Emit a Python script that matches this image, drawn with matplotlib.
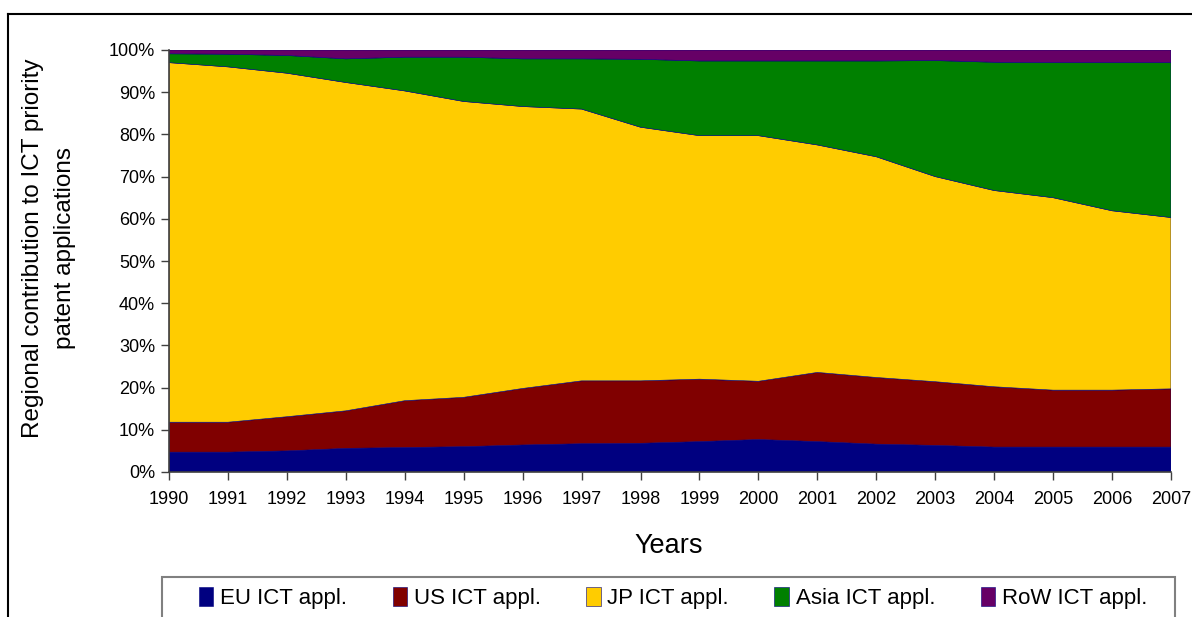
import matplotlib
matplotlib.use("Agg")
import matplotlib.pyplot as plt
from matplotlib.lines import Line2D
from matplotlib.patches import Rectangle
from matplotlib.ticker import FuncFormatter
import numpy as np

plt.rcParams["font.family"] = ["Liberation Sans", "DejaVu Sans"]

years = list(range(1990, 2008))

# regional shares of ICT priority patent applications (%)
eu = [4.7, 4.7, 5.0, 5.6, 5.8, 6.0, 6.4, 6.7, 6.8, 7.2, 7.7, 7.2, 6.6, 6.3, 5.9, 5.9, 5.9, 5.9]
us = [7.1, 7.1, 8.1, 8.9, 11.1, 11.7, 13.4, 14.9, 14.8, 14.8, 13.8, 16.4, 15.8, 15.1, 14.3, 13.5, 13.5, 13.8]
jp = [85.2, 84.2, 81.4, 77.8, 73.4, 70.1, 66.8, 64.4, 60.1, 57.7, 58.2, 53.9, 52.3, 48.6, 46.5, 45.6, 42.5, 40.6]
asia = [2.1, 3.0, 4.2, 5.6, 8.0, 10.5, 11.3, 11.9, 16.1, 17.7, 17.7, 19.9, 22.7, 27.5, 30.4, 32.0, 35.1, 36.7]
row = [0.9, 1.0, 1.3, 2.1, 1.7, 1.7, 2.1, 2.1, 2.2, 2.6, 2.6, 2.6, 2.6, 2.5, 2.9, 3.0, 3.0, 3.0]

labels = ["EU ICT appl.", "US ICT appl.", "JP ICT appl.", "Asia ICT appl.", "RoW ICT appl."]
colors = ["#000080", "#800000", "#FFCC00", "#008000", "#660066"]

W, H = 1192, 617
fig = plt.figure(figsize=(W / 100, H / 100), dpi=100)
ax = fig.add_axes([169 / W, 1 - 472 / H, (1171 - 169) / W, (472 - 50) / H])

polys = ax.stackplot(years, eu, us, jp, asia, row, colors=colors, labels=labels,
                     linewidth=0.4, edgecolors=colors)

ax.set_xlim(1990, 2007)
ax.set_ylim(0, 100)
ax.set_xticks(years)
ax.set_yticks(np.arange(0, 101, 10))
ax.yaxis.set_major_formatter(FuncFormatter(lambda v, _: f"{v:.0f}%"))
ax.tick_params(axis="both", direction="out", length=6, width=1, color="#404040",
               labelsize=13)
ax.tick_params(axis="y", pad=4)
ax.tick_params(axis="x", pad=8)
for side in ["top", "right"]:
    ax.spines[side].set_visible(False)
for side in ["left", "bottom"]:
    ax.spines[side].set_color("#404040")
    ax.spines[side].set_linewidth(1.2)

fig.text(49 / W, 1 - 248 / H, "Regional contribution to ICT priority\npatent applications",
         rotation=90, ha="center", va="center", multialignment="center",
         fontsize=17.5, linespacing=1.6)
fig.text(669 / W, 1 - 546 / H, "Years", ha="center", va="center", fontsize=19.5)

# outer frame of the original figure
fig.add_artist(Line2D([8 / W, 1], [1 - 14 / H, 1 - 14 / H], transform=fig.transFigure,
                      color="black", linewidth=1.5))
fig.add_artist(Line2D([8 / W, 8 / W], [0, 1 - 14 / H], transform=fig.transFigure,
                      color="black", linewidth=1.5))

# legend box runs off the bottom of the picture
fig.add_artist(Rectangle((162 / W, -0.05), (1175 - 162) / W, 0.05 + (617 - 577) / H,
                         transform=fig.transFigure, facecolor="white",
                         edgecolor="#808080", linewidth=1.5))
fig.legend(polys, labels, loc="center", ncol=5,
           bbox_to_anchor=(673 / W, 1 - 598 / H), frameon=False, fontsize=16,
           handlelength=0.65, handleheight=0.95, handletextpad=0.3,
           columnspacing=2.05, borderpad=0, borderaxespad=0)

fig.savefig("out.png", dpi=100)
